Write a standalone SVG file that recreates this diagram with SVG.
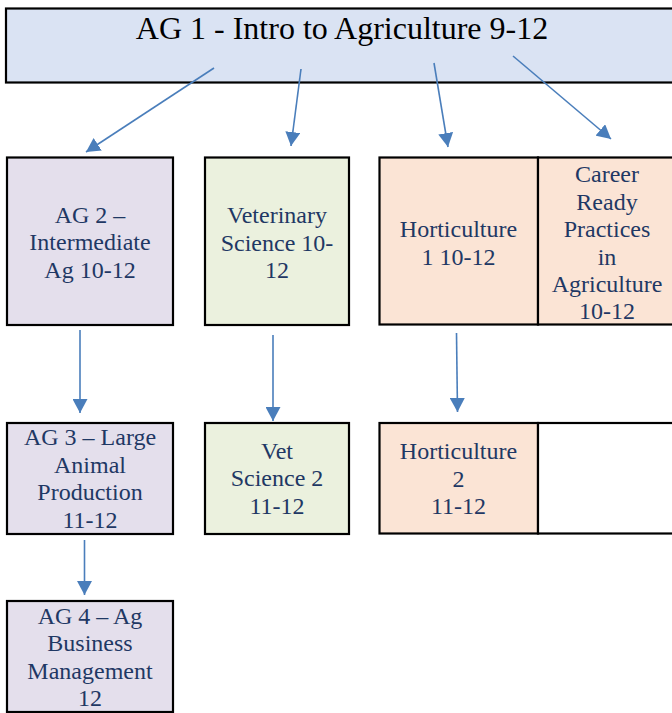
<svg xmlns="http://www.w3.org/2000/svg" width="672" height="713" viewBox="0 0 672 713">
<defs>
<marker id="ah" viewBox="0 0 14 15" refX="14" refY="7.5" markerWidth="14" markerHeight="15" markerUnits="userSpaceOnUse" orient="auto">
<path d="M0,0 L14,7.5 L0,15 Z" fill="#4a7ebb"/>
</marker>
<style>
.box{stroke:#000;stroke-width:2.2}
.ag{fill:#e4dfec}
.vet{fill:#ebf1de}
.hort{fill:#fbe4d5}
.t{font-family:"Liberation Serif","Times New Roman",serif;font-size:24px;fill:#1f3864;text-anchor:middle}
.title{font-family:"Liberation Serif","Times New Roman",serif;font-size:32px;fill:#000;text-anchor:middle}
.c{stroke:#4a7ebb;stroke-width:1.6;fill:none;marker-end:url(#ah)}
</style>
</defs>
<rect width="672" height="713" fill="#fff"/>
<g id="ag1">
<rect class="box" x="6" y="8.5" width="672" height="74" fill="#dae3f3"/>
<text class="title" x="342" y="38.5">AG 1 - Intro to Agriculture 9-12</text>
</g>
<g id="ag2">
<rect class="box ag" x="7" y="157.5" width="166" height="167.5"/>
<text class="t" x="90" y="222.5">AG 2 –</text>
<text class="t" x="90" y="250">Intermediate</text>
<text class="t" x="90" y="277.5">Ag 10-12</text>
</g>
<g id="vet1">
<rect class="box vet" x="205" y="157.5" width="144" height="167.5"/>
<text class="t" x="277" y="223">Veterinary</text>
<text class="t" x="277" y="250.5">Science 10-</text>
<text class="t" x="277" y="278">12</text>
</g>
<g id="hort1">
<rect class="box hort" x="379.5" y="157.5" width="158.5" height="167"/>
<text class="t" x="458.5" y="237">Horticulture</text>
<text class="t" x="458.5" y="264.5">1 10-12</text>
</g>
<g id="career">
<rect class="box hort" x="538" y="157.5" width="140" height="167"/>
<text class="t" x="607" y="182">Career</text>
<text class="t" x="607" y="209.5">Ready</text>
<text class="t" x="607" y="237">Practices</text>
<text class="t" x="607" y="264.5">in</text>
<text class="t" x="607" y="292">Agriculture</text>
<text class="t" x="607" y="319">10-12</text>
</g>
<g id="ag3">
<rect class="box ag" x="7" y="423" width="166" height="111"/>
<text class="t" x="90" y="445">AG 3 – Large</text>
<text class="t" x="90" y="472.5">Animal</text>
<text class="t" x="90" y="500">Production</text>
<text class="t" x="90" y="527.5">11-12</text>
</g>
<g id="vet2">
<rect class="box vet" x="205" y="423" width="144" height="111"/>
<text class="t" x="277" y="458.5">Vet</text>
<text class="t" x="277" y="486">Science 2</text>
<text class="t" x="277" y="513.5">11-12</text>
</g>
<g id="hort2">
<rect class="box hort" x="379.5" y="423" width="158.5" height="110.5"/>
<text class="t" x="458.5" y="459">Horticulture</text>
<text class="t" x="458.5" y="486.5">2</text>
<text class="t" x="458.5" y="514">11-12</text>
</g>
<g id="empty">
<rect class="box" x="538" y="423" width="140" height="110.5" fill="#fff"/>
</g>
<g id="ag4">
<rect class="box ag" x="7" y="601" width="166" height="111"/>
<text class="t" x="90" y="623.5">AG 4 – Ag</text>
<text class="t" x="90" y="651">Business</text>
<text class="t" x="90" y="678.5">Management</text>
<text class="t" x="90" y="706">12</text>
</g>
<g id="connectors">
<line class="c" x1="214" y1="68" x2="86" y2="152"/>
<line class="c" x1="301" y1="69" x2="291" y2="146"/>
<line class="c" x1="434" y1="63" x2="448" y2="147"/>
<line class="c" x1="513" y1="56" x2="611" y2="139"/>
<line class="c" x1="80" y1="330" x2="80" y2="413"/>
<line class="c" x1="273" y1="335" x2="273" y2="421"/>
<line class="c" x1="456.5" y1="333" x2="457.5" y2="412"/>
<line class="c" x1="84.5" y1="540" x2="84.5" y2="595"/>
</g>
</svg>
